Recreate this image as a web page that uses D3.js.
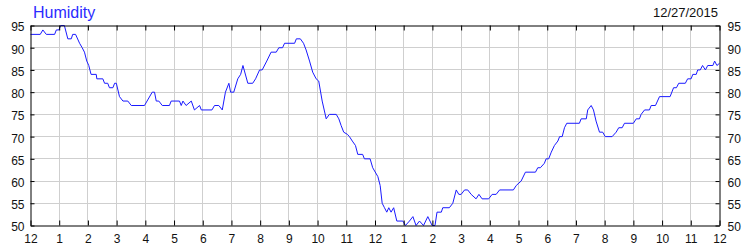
<!DOCTYPE html>
<html>
<head>
<meta charset="utf-8">
<script src="https://cdn.jsdelivr.net/npm/d3@7"></script>
<style>
body { margin: 0; background: #fff; }
svg { display: block; font-family: "Liberation Sans", Arial, sans-serif; }
.axis text { font-size: 12px; fill: #111; }
.axis .domain { stroke: #000; }
.axis .tick line { stroke: #000; }
</style>
</head>
<body>
<div id="chart-area"></div>
<script>
// hours since midnight and humidity readings (%)
var hours = [0, 0.34, 0.43, 0.55, 0.84, 0.90, 0.99, 1.05, 1.18, 1.30, 1.42, 1.47, 1.57, 1.71, 1.80, 1.88, 1.96, 2.03, 2.11, 2.29,
    2.31, 2.52, 2.58, 2.69, 2.75, 2.87, 2.93, 2.99, 3.10, 3.22, 3.39, 3.51, 3.97, 4.24, 4.32, 4.38, 4.47, 4.59, 4.84, 4.90,
    5.19, 5.25, 5.31, 5.42, 5.60, 5.71, 5.89, 5.95, 6.32, 6.41, 6.56, 6.68, 6.79, 6.91, 6.97, 7.08, 7.22, 7.32, 7.40, 7.57,
    7.74, 7.84, 7.98, 8.07, 8.23, 8.38, 8.56, 8.65, 8.78, 8.85, 9.20, 9.26, 9.40, 9.51, 9.60, 9.72, 9.83, 9.95, 10.04, 10.16,
    10.30, 10.41, 10.65, 10.74, 10.82, 10.91, 11.04, 11.11, 11.21, 11.32, 11.40, 11.57, 11.63, 11.83, 11.92, 12.10, 12.18, 12.25, 12.33, 12.41,
    12.48, 12.56, 12.65, 12.76, 12.97, 13.06, 13.20, 13.32, 13.43, 13.55, 13.69, 13.84, 13.99, 14.09, 14.16, 14.31, 14.36, 14.59, 14.71, 14.83,
    14.92, 15.00, 15.12, 15.23, 15.35, 15.52, 15.62, 15.73, 15.96, 16.08, 16.22, 16.34, 16.82, 16.92, 17.09, 17.24, 17.59, 17.67, 17.76, 17.90,
    17.96, 18.05, 18.14, 18.25, 18.37, 18.43, 18.52, 18.60, 18.68, 19.12, 19.18, 19.36, 19.41, 19.53, 19.61, 19.70, 19.82, 19.93, 20.02, 20.26,
    20.40, 20.49, 20.61, 20.69, 21.00, 21.10, 21.21, 21.27, 21.39, 21.56, 21.62, 21.77, 21.91, 22.28, 22.40, 22.50, 22.58, 22.81, 22.89, 23.01,
    23.07, 23.19, 23.24, 23.33, 23.41, 23.51, 23.59, 23.77, 23.83, 23.91, 24];
var humidity = [93, 93, 94, 93, 93, 94, 94, 95, 95, 92, 92, 93, 93, 91, 90, 89, 87, 86, 84, 84,
    83, 83, 82, 82, 81, 81, 82, 82, 79, 78, 78, 77, 77, 80, 80, 78, 78, 77, 77, 78,
    78, 77, 78, 77, 78, 76, 77, 76, 76, 77, 77, 76, 80, 82, 80, 80, 83, 84, 86, 82,
    82, 83, 85, 85, 87, 89, 89, 90, 90, 91, 91, 92, 92, 91, 89.5, 87, 84.5, 83, 82.5, 78,
    74, 75, 75, 74, 72.5, 71, 70.5, 70, 69, 68, 66, 66, 65, 65, 63, 61, 59, 55, 54, 53,
    54, 53, 54, 51, 51, 50, 51, 52, 50, 51, 50, 52, 50, 50, 53, 53, 54, 54, 55, 58,
    57, 57, 58, 58, 57, 56, 57, 56, 56, 57, 57, 58, 58, 59, 60, 62, 62, 63, 63, 64,
    65, 65, 66.5, 68, 69, 70, 70, 72, 73, 73, 74, 74, 76, 77, 76, 73.5, 71, 71, 70, 70,
    71, 72, 72, 73, 73, 74, 74, 75, 76, 76, 77, 77, 79, 79, 81, 81, 82, 82, 83, 83,
    84, 84, 85, 85, 86, 85, 86, 86, 87, 86, 86.5];

var hourTicks = d3.range(0, 25);
var hourLabels = ["12", "1", "2", "3", "4", "5", "6", "7", "8", "9", "10", "11",
    "12", "1", "2", "3", "4", "5", "6", "7", "8", "9", "10", "11", "12"];
var humidityTicks = [50, 55, 60, 65, 70, 75, 80, 85, 90, 95];

var title = "Humidity",
    dateLabel = "12/27/2015";

var margin = {top: 25.5, right: 30.5, bottom: 24.5, left: 30.5};
var width = 750 - margin.left - margin.right,
    height = 250 - margin.top - margin.bottom;

var svg = d3.select("#chart-area").append("svg")
    .attr("width", 750)
    .attr("height", 250);

var g = svg.append("g")
    .attr("transform", "translate(" + margin.left + "," + margin.top + ")");

// Scales
var x = d3.scaleLinear().domain([0, 24]).range([0, width]);
var y = d3.scaleLinear().domain([50, 95]).range([height, 0]);

// grid
g.append("g").selectAll("line")
    .data(hourTicks.slice(1, -1))
    .enter().append("line")
    .attr("x1", function(d) { return Math.round(x(d)); })
    .attr("x2", function(d) { return Math.round(x(d)); })
    .attr("y1", 0)
    .attr("y2", height)
    .attr("stroke", "#cfcfcf");

g.append("g").selectAll("line")
    .data(humidityTicks.slice(1, -1))
    .enter().append("line")
    .attr("x1", 0)
    .attr("x2", width)
    .attr("y1", function(d) { return Math.round(y(d)); })
    .attr("y2", function(d) { return Math.round(y(d)); })
    .attr("stroke", "#cfcfcf");

// line
var line = d3.line()
    .x(function(d) { return x(d[0]); })
    .y(function(d) { return y(d[1]); });

g.append("path")
    .datum(d3.zip(hours, humidity))
    .attr("fill", "none")
    .attr("stroke", "#1a1aff")
    .attr("stroke-width", 1)
    .attr("d", line);

// axes
var xAxis = d3.axisBottom(x)
    .tickValues(hourTicks)
    .tickSizeInner(-5)
    .tickSizeOuter(0)
    .tickPadding(9)
    .tickFormat(function(d, i) { return hourLabels[i]; });

g.append("g")
    .attr("class", "x-axis axis")
    .attr("transform", "translate(0," + height + ")")
    .call(xAxis);

g.append("g")
    .attr("class", "x-axis axis")
    .call(d3.axisTop(x).tickValues(hourTicks).tickSizeInner(-5).tickSizeOuter(0).tickFormat(""));

g.append("g")
    .attr("class", "y-axis axis")
    .call(d3.axisLeft(y).tickValues(humidityTicks).tickSizeInner(-4).tickSizeOuter(0).tickPadding(6));

g.append("g")
    .attr("class", "y-axis axis")
    .attr("transform", "translate(" + width + ",0)")
    .call(d3.axisRight(y).tickValues(humidityTicks).tickSizeInner(-4).tickSizeOuter(0).tickPadding(8));

g.selectAll(".axis text").attr("font-family", null).attr("font-size", null);
g.selectAll(".y-axis text").attr("dy", "0.45em");

// titles
svg.append("text")
    .attr("x", 33)
    .attr("y", 18)
    .attr("fill", "#2b2bff")
    .style("font-size", "16px")
    .text(title);

svg.append("text")
    .attr("x", 718)
    .attr("y", 17)
    .attr("text-anchor", "end")
    .attr("fill", "#111")
    .style("font-size", "13px")
    .text(dateLabel);
</script>
</body>
</html>
